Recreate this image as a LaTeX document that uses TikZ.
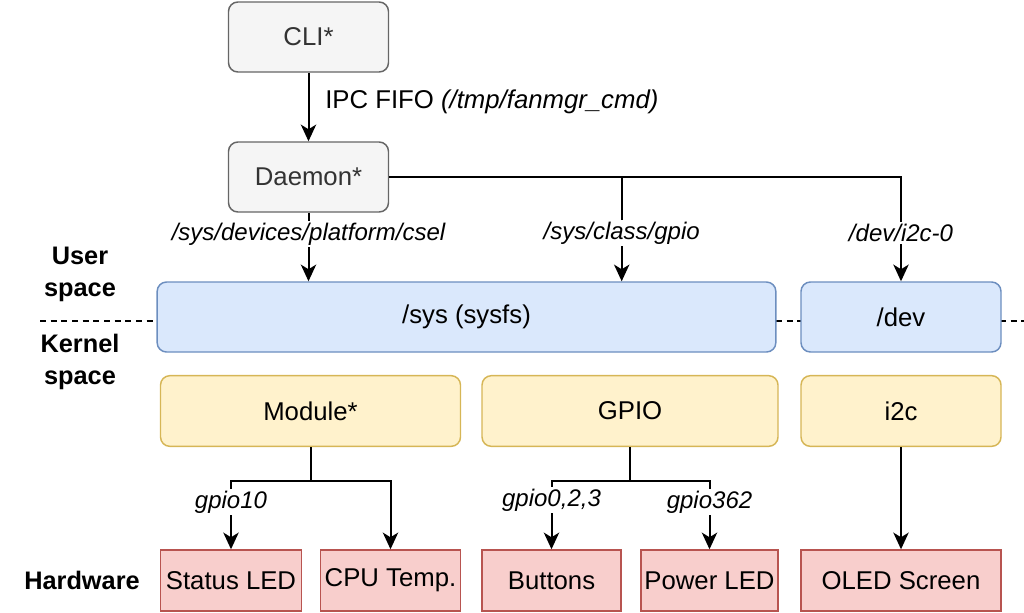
\documentclass[tikz,border=0pt]{standalone}
\usepackage{fontspec}
\setmainfont{Liberation Sans}
\usetikzlibrary{arrows.meta}
\definecolor{grayfill}{HTML}{F5F5F5}
\definecolor{graydraw}{HTML}{666666}
\definecolor{graytext}{HTML}{333333}
\definecolor{bluefill}{HTML}{DAE8FC}
\definecolor{bluedraw}{HTML}{6C8EBF}
\definecolor{yelfill}{HTML}{FFF2CC}
\definecolor{yeldraw}{HTML}{D6B656}
\definecolor{redfill}{HTML}{F8CECC}
\definecolor{reddraw}{HTML}{B85450}
\tikzset{
  boxbase/.style={draw, line width=1.1pt, inner sep=0pt, align=center, font=\fontsize{19.3}{23}\selectfont},
  graybox/.style={boxbase, rounded corners=7pt, fill=grayfill, draw=graydraw, text=graytext},
  bluebox/.style={boxbase, rounded corners=7pt, fill=bluefill, draw=bluedraw},
  yelbox/.style={boxbase, rounded corners=7pt, fill=yelfill, draw=yeldraw},
  redbox/.style={boxbase, fill=redfill, draw=reddraw},
  conn/.style={line width=1.5pt},
  arr/.style={conn, -{Stealth[length=12.5pt,width=11.5pt,inset=3.5pt]}},
  lbl/.style={fill=white, inner sep=1.5pt, font=\fontsize{18}{22}\selectfont\itshape},
  side/.style={align=center, font=\fontsize{19}{24}\selectfont\bfseries},
}
\begin{document}
\begin{tikzpicture}[x=0.75pt,y=-0.75pt]
\useasboundingbox (0,0) rectangle (1024,612);
% dashed separator
\coordinate (dl) at (40,320.7);
\coordinate (dr) at (1024,320.7);
\draw[line width=1.3pt, dash pattern=on 4.5pt off 3.5pt] (dl) -- (dr);
% nodes
\node[graybox, minimum width=120pt, minimum height=52.5pt] (cli) at (308.5,37) {CLI*};
\node[graybox, minimum width=120pt, minimum height=52.5pt] (daemon) at (308.5,177) {Daemon*};
\node[bluebox, minimum width=464pt, minimum height=52.5pt] (sys) at (466.5,317) {/sys (sysfs)};
\node[bluebox, minimum width=150pt, minimum height=52.5pt] (dev) at (901,317) {/dev};
\node[yelbox, minimum width=225pt, minimum height=53pt] (module) at (310.5,411) {Module*};
\node[yelbox, minimum width=222pt, minimum height=53pt] (gpio) at (630,411) {GPIO};
\node[yelbox, minimum width=150pt, minimum height=53pt] (i2c) at (901,411) {i2c};
\node[redbox, minimum width=105.75pt, minimum height=45.75pt] (status) at (231,580.5) {Status LED};
\node[redbox, minimum width=105pt, minimum height=45.75pt] (cpu) at (390.5,580.5) {CPU Temp.};
\node[redbox, minimum width=104.25pt, minimum height=45.75pt] (buttons) at (551.5,580.5) {Buttons};
\node[redbox, minimum width=102.75pt, minimum height=45.75pt] (power) at (709.5,580.5) {Power LED};
\node[redbox, minimum width=150pt, minimum height=45.75pt] (oled) at (901,580.5) {OLED Screen};
% side labels
\node[side] (user) at (80,274) {User\\space};
\node[side] (kernel) at (80,361.5) {Kernel\\space};
\node[side] (hw) at (82,580) {Hardware};
% connectors
\draw[arr] (cli.south) -- (daemon.north);
\node[anchor=west, inner sep=0pt, font=\fontsize{19.3}{23}\selectfont] (ipc) at (325,102) {IPC FIFO \textit{(/tmp/fanmgr\_cmd)}};
\draw[arr] (daemon.south) -- (daemon.south |- sys.north);
\coordinate (br) at (621.7,176.7);
\draw[arr] (daemon.east) -- (dev.north |- daemon.east) -- (dev.north);
\draw[arr] (br) -- (br |- sys.north);
\node[lbl] (l1) at (308.5,234) {/sys/devices/platform/csel};
\node[lbl] (l2) at (621.7,233) {/sys/class/gpio};
\node[lbl] (l3) at (901,233) {/dev/i2c-0};
% module branch
\coordinate (mb) at (310.5,480.5);
\draw[conn] (module.south) -- (mb);
\draw[arr] (mb) -| (status.north);
\draw[arr] (mb) -| (cpu.north);
\coordinate (gb) at (630,480.5);
\draw[conn] (gpio.south) -- (gb);
\draw[arr] (gb) -| (buttons.north);
\draw[arr] (gb) -| (power.north);
\draw[arr] (i2c.south) -- (oled.north);
\node[lbl] (l4) at (231,502) {gpio10};
\node[lbl] (l5) at (551.5,500) {gpio0,2,3};
\node[lbl] (l6) at (709.5,502) {gpio362};
\end{tikzpicture}
\end{document}
